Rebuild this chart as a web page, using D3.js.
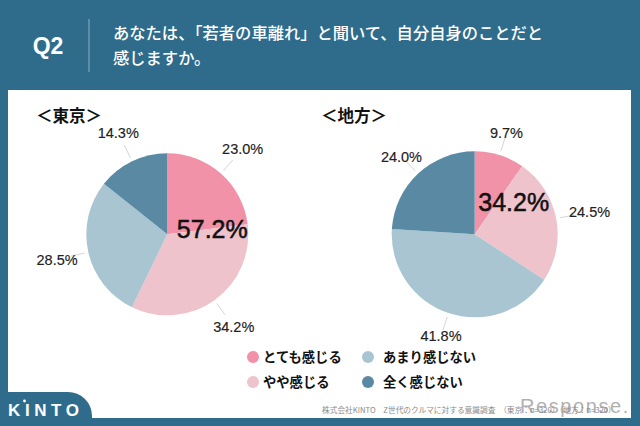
<!DOCTYPE html>
<html>
<head>
<meta charset="utf-8">
<script src="https://cdn.jsdelivr.net/npm/d3@7"></script>
<style>
  html, body { margin: 0; padding: 0; background: #fff; }
  text { font-family: "Noto Sans CJK JP", "Noto Sans", sans-serif; }
  .num { font-family: "Liberation Sans", Arial, sans-serif; }
</style>
</head>
<body>
<div id="chart"></div>
<script>
// values
const categories = ["とても感じる", "やや感じる", "あまり感じない", "全く感じない"];
const tokyoValues = [23.0, 34.2, 28.5, 14.3];
const chihoValues = [9.7, 24.5, 41.8, 24.0];
const tokyoTotal = "57.2%";
const chihoTotal = "34.2%";
const colors = ["#f192a9", "#eec3cc", "#a9c5d2", "#5a8aa3"];

const width = 640, height = 426;

const svg = d3.select("#chart")
  .append("svg")
  .attr("width", width)
  .attr("height", height)
  .style("display", "block");

// header band and white panel
svg.append("rect").attr("width", width).attr("height", height).attr("fill", "#2f6c8c");
svg.append("rect").attr("x", 8).attr("y", 90).attr("width", 623).attr("height", 328).attr("fill", "#fff");

svg.append("text").attr("x", 48).attr("y", 54)
  .attr("text-anchor", "middle").attr("class", "num")
  .attr("font-size", 23).attr("font-weight", 700).attr("fill", "#fff")
  .text("Q2");
svg.append("line").attr("x1", 89).attr("x2", 89).attr("y1", 19).attr("y2", 72)
  .attr("stroke", "#8fb0c2").attr("stroke-width", 1);
svg.append("text").attr("x", 113).attr("y", 39)
  .attr("font-size", 16.3).attr("font-weight", 500).attr("fill", "#fff")
  .text("あなたは、「若者の車離れ」と聞いて、自分自身のことだと");
svg.append("text").attr("x", 113).attr("y", 64)
  .attr("font-size", 16.3).attr("font-weight", 500).attr("fill", "#fff")
  .text("感じますか。");

const pie = d3.pie().sort(null).value(d => d);

function drawPie(opts) {
  const g = svg.append("g").attr("transform", `translate(${opts.cx}, ${opts.cy})`);
  const arc = d3.arc().innerRadius(0).outerRadius(opts.r);
  const arcs = pie(opts.values);

  g.selectAll("path").data(arcs).enter().append("path")
    .attr("d", arc)
    .attr("fill", (d, i) => colors[i]);

  const polar = (d, r) => d3.arc().innerRadius(r).outerRadius(r).centroid(d);

  // leader lines
  g.selectAll("line").data(arcs).enter().append("line")
    .attr("x1", d => polar(d, opts.r + 4)[0])
    .attr("y1", d => polar(d, opts.r + 4)[1])
    .attr("x2", d => polar(d, opts.r + 18)[0])
    .attr("y2", d => polar(d, opts.r + 18)[1])
    .attr("stroke", "#c9c9c9").attr("stroke-width", 0.8);

  g.selectAll("text.val").data(arcs).enter().append("text")
    .attr("class", "val num")
    .attr("x", (d, i) => polar(d, opts.labelR[i])[0])
    .attr("y", (d, i) => polar(d, opts.labelR[i])[1])
    .attr("dy", "0.36em")
    .attr("text-anchor", "middle")
    .attr("font-size", 14.5).attr("fill", "#222")
    .attr("stroke", "#222").attr("stroke-width", 0.15)
    .text(d => d.value.toFixed(1) + "%");

  // big total over the two "feel it" slices
  g.append("text").attr("class", "num")
    .attr("x", opts.totalDx).attr("y", opts.totalDy)
    .attr("dy", "0.36em").attr("text-anchor", "middle")
    .attr("font-size", 25).attr("fill", "#111")
    .attr("stroke", "#111").attr("stroke-width", 0.5)
    .text(opts.total);

  svg.append("text").attr("x", opts.headX).attr("y", 122)
    .attr("font-size", 16.5).attr("font-weight", 700).attr("fill", "#111")
    .text(opts.head);
}

drawPie({
  values: tokyoValues, total: tokyoTotal, head: "＜東京＞",
  cx: 167.3, cy: 234.3, r: 81, labelR: [114, 114, 113, 113],
  totalDx: 45, totalDy: -5, headX: 36
});
drawPie({
  values: chihoValues, total: chihoTotal, head: "＜地方＞",
  cx: 474.7, cy: 234.3, r: 83, labelR: [106, 117, 107, 107],
  totalDx: 39, totalDy: -32, headX: 321
});

// legend, two columns of two
const legendX = d3.scaleOrdinal().domain([0, 1]).range([253, 368]);
const legendY = d3.scaleOrdinal().domain([0, 1]).range([357, 382]);
const legendCells = [[0, 0], [0, 1], [1, 0], [1, 1]];
const legend = svg.append("g").selectAll("g").data(categories).enter().append("g")
  .attr("transform", (d, i) => `translate(${legendX(legendCells[i][0])}, ${legendY(legendCells[i][1])})`);
legend.append("circle").attr("r", 6).attr("fill", (d, i) => colors[i]);
legend.append("text")
  .attr("x", (d, i) => legendCells[i][0] === 0 ? 10 : 15)
  .attr("dy", "0.36em")
  .attr("font-size", 13.3).attr("font-weight", 700).attr("fill", "#111")
  .text(d => d);

// KINTO tab
svg.append("path")
  .attr("d", "M0,392 H68 A24,24 0 0 1 92,416 V418 H0 Z")
  .attr("fill", "#2f6c8c");
svg.append("text").attr("x", 8).attr("y", 416)
  .attr("class", "num")
  .attr("font-size", 17).attr("font-weight", 700).attr("letter-spacing", 4.6).attr("fill", "#fff")
  .text("KINTO");
svg.append("circle").attr("cx", 24.5).attr("cy", 401).attr("r", 1.4).attr("fill", "#fff");

// source line and watermark
svg.append("text").attr("x", 322).attr("y", 413)
  .attr("font-size", 7.7).attr("fill", "#8a8a8a")
  .text("株式会社KINTO　Z世代のクルマに対する意識調査　（東京：n=320）（地方：n=320）");
svg.append("text").attr("x", 630).attr("y", 413)
  .attr("text-anchor", "end").attr("class", "num")
  .attr("font-size", 20).attr("letter-spacing", 1.6).attr("fill", "#8d8d8d").attr("fill-opacity", 0.7)
  .text("Response.");
</script>
</body>
</html>
